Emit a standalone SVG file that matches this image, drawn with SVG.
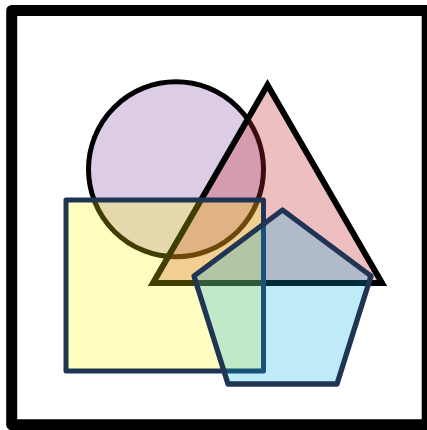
<svg xmlns="http://www.w3.org/2000/svg" width="427" height="430" viewBox="0 0 427 430">
<style>
.frame{fill:#ffffff;stroke:#000000;stroke-width:11;stroke-linejoin:round}
.circle{fill:#8e55ac;fill-opacity:0.3;stroke:#000000;stroke-width:5}
.tri{fill:#c32a30;fill-opacity:0.3;stroke:#000000;stroke-width:6;stroke-linejoin:miter}
.sq{fill:#fffb03;fill-opacity:0.25;stroke:#1f3553;stroke-width:5;stroke-linejoin:round}
.pent{fill:#00aae3;fill-opacity:0.25;stroke:#1f3553;stroke-width:5.3;stroke-linejoin:round}
</style>
<rect width="427" height="430" fill="#ffffff"/>
<g id="frame"><rect class="frame" x="11.7" y="10.4" width="415.5" height="414.3"/></g>
<g id="circle"><circle class="circle" cx="176" cy="169.3" r="87.5"/></g>
<g id="triangle"><polygon class="tri" points="267.5,85 153,283 382,283"/></g>
<g id="square"><rect class="sq" x="66" y="200" width="197.5" height="171"/></g>
<g id="pentagon"><polygon class="pent" points="282.5,210 371,276 337,384 228,384 194,276"/></g>
</svg>
